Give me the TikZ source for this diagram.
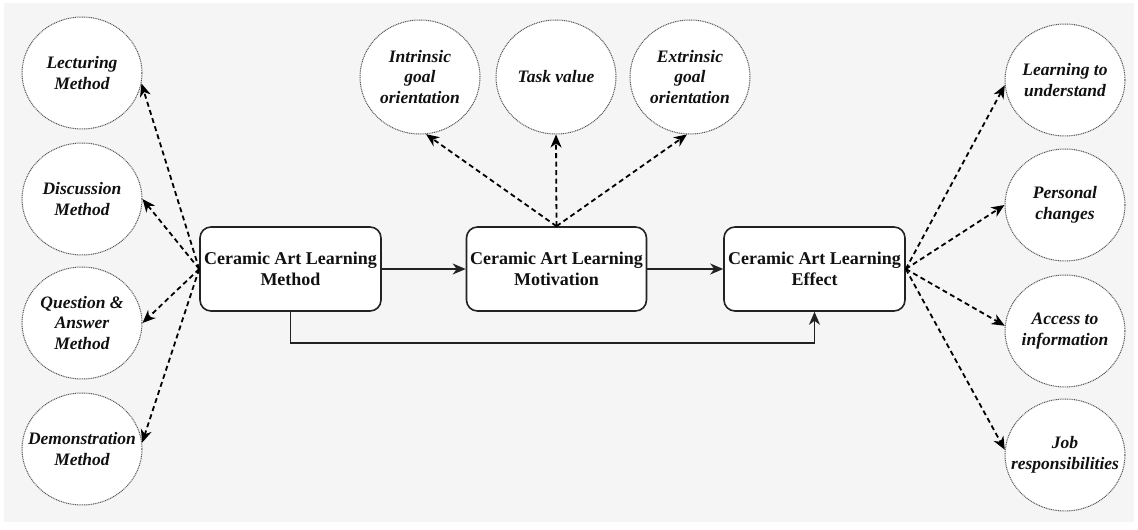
\documentclass[tikz,border=0pt]{standalone}
\usepackage{fontspec}
\setmainfont{Liberation Serif}
\newfontfamily\cfont{Liberation Serif Bold Italic}
\usetikzlibrary{arrows.meta,shapes.geometric,calc}
\definecolor{bggray}{HTML}{F5F5F5}
\definecolor{linegray}{HTML}{222222}
\definecolor{dotgray}{HTML}{555555}
\definecolor{txt}{HTML}{111111}
\begin{document}
\begin{tikzpicture}[x=1pt,y=-1pt,
  mainbox/.style={draw=linegray, line width=1.6pt, fill=white, rounded corners=11pt,
    minimum height=84pt, inner sep=0pt, align=center, text=txt,
    font=\fontsize{18}{21}\selectfont\bfseries},
  circ/.style={ellipse, draw=dotgray, line width=1pt, dash pattern=on 1pt off 0.8pt,
    fill=white, minimum width=120pt, minimum height=112pt, inner sep=0pt},
  ctext/.style={align=center, inner sep=0pt, text=txt,
    font=\fontsize{17.5}{20.5}\selectfont\cfont},
  solidarrow/.style={draw=linegray, line width=1.6pt, -{Stealth[length=13pt,width=11pt,inset=4pt]}},
  dasharrow/.style={draw=black, line width=1.8pt, dash pattern=on 5pt off 3.5pt,
    -{Stealth[length=13pt,width=11pt,inset=4pt]}}
]
\useasboundingbox (0,0) rectangle (1138,530);
\fill[white] (0,0) rectangle (1138,530);
\fill[bggray] (4,3) rectangle (1134,522);

% main boxes
\node[mainbox, minimum width=181pt] (method) at (290.5,269) {Ceramic Art Learning\\Method};
\node[mainbox, minimum width=180pt] (motiv) at (556.5,269) {Ceramic Art Learning\\Motivation};
\node[mainbox, minimum width=181pt] (effect) at (814.5,269) {Ceramic Art Learning\\Effect};

% left circles
\node[circ] (l1) at (82,73) {};
\node[ctext] at (l1) {Lecturing\\Method};
\node[circ] (l2) at (82,199) {};
\node[ctext] at (l2) {Discussion\\Method};
\node[circ] (l3) at (82,323) {};
\node[ctext] at (l3) {Question \&\\Answer\\Method};
\node[circ] (l4) at (82,449) {};
\node[ctext] at (l4) {Demonstration\\Method};

% top circles
\node[circ, minimum height=114pt] (t1) at (420,77) {};
\node[ctext] at (t1) {Intrinsic\\goal\\orientation};
\node[circ, minimum height=114pt] (t2) at (556,77) {};
\node[ctext] at (t2) {Task value};
\node[circ, minimum height=114pt] (t3) at (690,77) {};
\node[ctext] at (t3) {Extrinsic\\goal\\orientation};

% right circles
\node[circ] (r1) at (1065,80) {};
\node[ctext] at (r1) {Learning to\\understand};
\node[circ] (r2) at (1065,205) {};
\node[ctext] at (r2) {Personal\\changes};
\node[circ] (r3) at (1065,331) {};
\node[ctext] at (r3) {Access to\\information};
\node[circ] (r4) at (1065,455) {};
\node[ctext] at (r4) {Job\\responsibilities};

% solid connectors
\draw[solidarrow] (method.east) -- (motiv.west);
\draw[solidarrow] (motiv.east) -- (effect.west);
\draw[solidarrow] (method.south) -- ++(0,31) -| (effect.south);

% dashed connectors left
\draw[dasharrow] (method.west) -- (l1.-10);
\draw[dasharrow] (method.west) -- (l2.east);
\draw[dasharrow] (method.west) -- (l3.east);
\draw[dasharrow] (method.west) -- (l4.6);

% dashed connectors top
\draw[dasharrow] (motiv.north) -- (t1.-84);
\draw[dasharrow] (motiv.north) -- (t2.south);
\draw[dasharrow] (motiv.north) -- (t3.-93);

% dashed connectors right
\draw[dasharrow] (effect.east) -- (r1.185);
\draw[dasharrow] (effect.east) -- (r2.west);
\draw[dasharrow] (effect.east) -- (r3.175);
\draw[dasharrow] (effect.east) -- (r4.175);
\end{tikzpicture}
\end{document}
